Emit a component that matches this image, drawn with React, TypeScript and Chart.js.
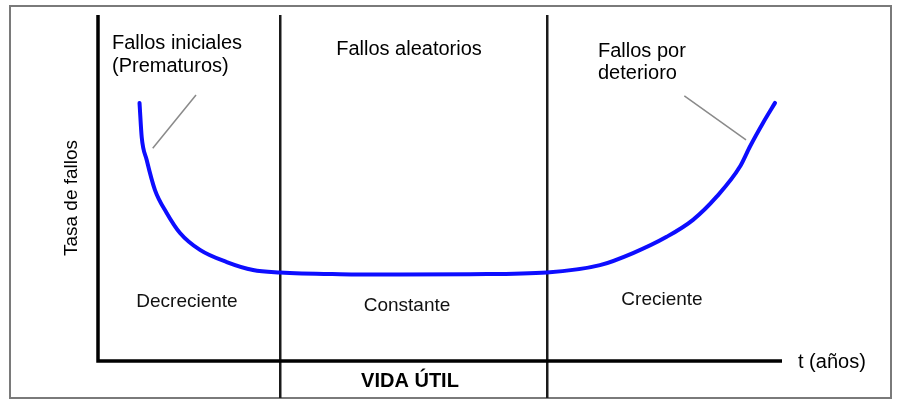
import React, { useEffect, useRef } from "react";
import { Chart, registerables } from "chart.js";

Chart.register(...registerables);

// Time axis (arbitrary units 0..100) and failure-rate values (0..100)
const tValues = [6.07, 6.39, 7.12, 8.33, 10.04, 11.99, 14.91, 18.82, 22.66, 26.61, 35.38, 44.15, 54.39, 65.64, 73.39, 78.22, 83.14, 86.99, 90.45, 93.86, 95.32, 97.22, 98.98];
const rateValues = [74.6, 64.7, 58.1, 49.4, 42.8, 37.0, 32.1, 28.6, 26.3, 25.6, 25.1, 25.0, 25.1, 25.6, 27.7, 31.2, 35.9, 40.8, 47.5, 56.2, 62.0, 68.8, 74.6];

// Phase boundaries on the time axis
const boundaries = [26.6, 65.6];

// Leader lines [t1, r1, t2, r2]
const leaderLines = [
  [14.33, 76.9, 8.0, 61.5],
  [85.72, 76.6, 94.74, 63.9],
];

const topLabels = [["Fallos iniciales", "(Prematuros)"], ["Fallos aleatorios"], ["Fallos por", "deterioro"]];
const bottomLabels = ["Decreciente", "Constante", "Creciente"];
const yTitle = "Tasa de fallos";
const xTitle = "t (años)";
const lifeLabel = "VIDA ÚTIL";

const FONT = '"Liberation Sans", Arial, sans-serif';

const overlay = {
  id: "overlay",
  beforeDatasetsDraw(chart: any) {
    const { ctx, chartArea, scales } = chart;
    const x = scales.x;
    const y = scales.y;
    ctx.save();
    // outer frame
    ctx.strokeStyle = "#7a7a7a";
    ctx.lineWidth = 2;
    ctx.strokeRect(10, 6, 881, 392);

    // phase boundaries
    ctx.strokeStyle = "#1a1a1a";
    ctx.lineWidth = 2.5;
    boundaries.forEach((b) => {
      const px = Math.round(x.getPixelForValue(b)) + 0.25;
      ctx.beginPath();
      ctx.moveTo(px, chartArea.top);
      ctx.lineTo(px, 398);
      ctx.stroke();
    });

    // axes
    ctx.strokeStyle = "#000";
    ctx.lineWidth = 3.5;
    ctx.lineJoin = "miter";
    ctx.beginPath();
    ctx.moveTo(chartArea.left, chartArea.top);
    ctx.lineTo(chartArea.left, chartArea.bottom);
    ctx.lineTo(chartArea.right, chartArea.bottom);
    ctx.stroke();

    // leader lines
    ctx.strokeStyle = "#8a8a8a";
    ctx.lineWidth = 1.5;
    leaderLines.forEach(([t1, r1, t2, r2]) => {
      ctx.beginPath();
      ctx.moveTo(x.getPixelForValue(t1), y.getPixelForValue(r1));
      ctx.lineTo(x.getPixelForValue(t2), y.getPixelForValue(r2));
      ctx.stroke();
    });

    // texts
    ctx.fillStyle = "#000";
    ctx.textBaseline = "middle";
    ctx.font = `20px ${FONT}`;
    ctx.textAlign = "left";
    ctx.fillText(topLabels[0][0], 112, 43);
    ctx.fillText(topLabels[0][1], 112, 66);
    ctx.textAlign = "center";
    ctx.fillText(topLabels[1][0], 409, 49);
    ctx.textAlign = "left";
    ctx.fillText(topLabels[2][0], 598, 51);
    ctx.fillText(topLabels[2][1], 598, 73);

    ctx.font = `19px ${FONT}`;
    ctx.fillStyle = "#111";
    ctx.textAlign = "center";
    ctx.fillText(bottomLabels[0], 187, 302);
    ctx.fillText(bottomLabels[1], 407, 306);
    ctx.fillText(bottomLabels[2], 662, 300);

    ctx.fillStyle = "#000";
    ctx.font = `20px ${FONT}`;
    ctx.textAlign = "left";
    ctx.fillText(xTitle, 798, 362);

    ctx.font = `bold 20px ${FONT}`;
    ctx.textAlign = "center";
    ctx.fillText(lifeLabel, 410, 381);

    ctx.font = `19px ${FONT}`;
    ctx.save();
    ctx.translate(72, 198);
    ctx.rotate(-Math.PI / 2);
    ctx.textAlign = "center";
    ctx.fillText(yTitle, 0, 0);
    ctx.restore();

    ctx.restore();
  },
};

export default function App() {
  const ref = useRef<HTMLCanvasElement | null>(null);
  useEffect(() => {
    if (!ref.current) return;
    const chart = new Chart(ref.current, {
      type: "line",
      data: {
        datasets: [
          {
            data: tValues.map((t, i) => ({ x: t, y: rateValues[i] })),
            borderColor: "#0d0dff",
            borderWidth: 4,
            pointRadius: 0,
            cubicInterpolationMode: "monotone",
            borderCapStyle: "round",
            borderJoinStyle: "round",
            fill: false,
          },
        ],
      },
      options: {
        animation: false,
        responsive: false,
        devicePixelRatio: 1,
        layout: { padding: { left: 98, right: 118, top: 15, bottom: 45 } },
        plugins: { legend: { display: false }, tooltip: { enabled: false } },
        scales: {
          x: { type: "linear", min: 0, max: 100, display: false },
          y: { type: "linear", min: 0, max: 100, display: false },
        },
      },
      plugins: [overlay],
    } as any);
    return () => chart.destroy();
  }, []);
  return (
    <div style={{ position: "absolute", left: 0, top: 0, width: 900, height: 406, background: "#fff" }}>
      <canvas ref={ref} width={900} height={406} style={{ display: "block" }} />
    </div>
  );
}
